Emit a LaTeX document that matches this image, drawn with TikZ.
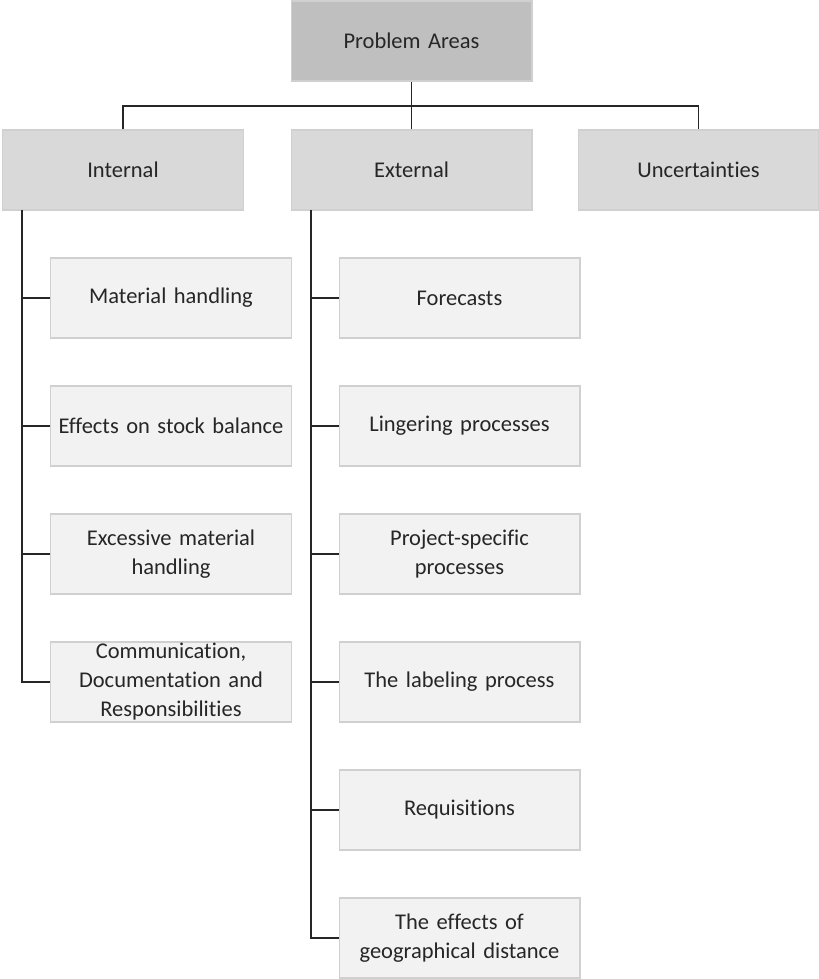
\documentclass[tikz,border=0pt]{standalone}
\usepackage{fontspec}
\setmainfont{Carlito}[WordSpace=0.85, Ligatures=NoCommon]
\usepackage{tikz}
\usetikzlibrary{positioning,calc}

\definecolor{headgray}{HTML}{BFBFBF}
\definecolor{areagray}{HTML}{D9D9D9}
\definecolor{itemgray}{HTML}{F2F2F2}
\definecolor{edgegray}{HTML}{D0D0D0}
\definecolor{linegray}{HTML}{262626}

\tikzset{
  box/.style={draw=edgegray, line width=0.6pt, minimum width=4.82cm, minimum height=1.6cm,
    text width=4.7cm, align=center, inner sep=0pt, text=black!85,
    font=\fontsize{12.8}{16.5}\selectfont},
  headbox/.style={box, fill=headgray},
  areabox/.style={box, fill=areagray},
  itembox/.style={box, fill=itemgray},
  link/.style={draw=linegray, line width=1.1pt}
}

\begin{document}
\begin{tikzpicture}[x=0.02cm, y=-0.02cm]
    \useasboundingbox (0,0) rectangle (818,979);

    % Nivel 1: topo
    \node[headbox] (top) at (411.5,41) {Problem Areas};

    % Nivel 2: areas
    \node[areabox] (internal) at (123,170) {Internal};
    \node[areabox] (external) at (411.5,170) {External};
    \node[areabox] (uncert) at (698.5,170) {Uncertainties};

    % Nivel 3: itens internos
    \node[itembox] (int1) at (171,298) {Material handling};
    \node[itembox] (int2) at (171,426) {Effects on stock balance};
    \node[itembox] (int3) at (171,554) {Excessive material\\handling};
    \node[itembox] (int4) at (171,682) {Communication,\\Documentation and\\Responsibilities};

    % Nivel 3: itens externos
    \node[itembox] (ext1) at (459.5,298) {Forecasts};
    \node[itembox] (ext2) at (459.5,426) {Lingering processes};
    \node[itembox] (ext3) at (459.5,554) {Project-specific\\processes};
    \node[itembox] (ext4) at (459.5,682) {The labeling process};
    \node[itembox] (ext5) at (459.5,810) {Requisitions};
    \node[itembox] (ext6) at (459.5,938) {The effects of\\geographical distance};

    % Ligacoes do topo
    \coordinate (bus) at (411.5,106);
    \draw[link] (top.south) -- (bus);
    \draw[link] (internal.north) -- (internal.north |- bus) -- (uncert.north |- bus) -- (uncert.north);
    \draw[link] (external.north) -- (external.north |- bus);

    % Espinhas verticais
    \coordinate (ispine) at (22,210);
    \coordinate (espine) at (311,210);
    \draw[link] (ispine) |- (int4.west);
    \draw[link] (espine) |- (ext6.west);
    \foreach \n in {int1,int2,int3}
      \draw[link] (ispine |- \n.west) -- (\n.west);
    \foreach \n in {ext1,ext2,ext3,ext4,ext5}
      \draw[link] (espine |- \n.west) -- (\n.west);
\end{tikzpicture}
\end{document}
